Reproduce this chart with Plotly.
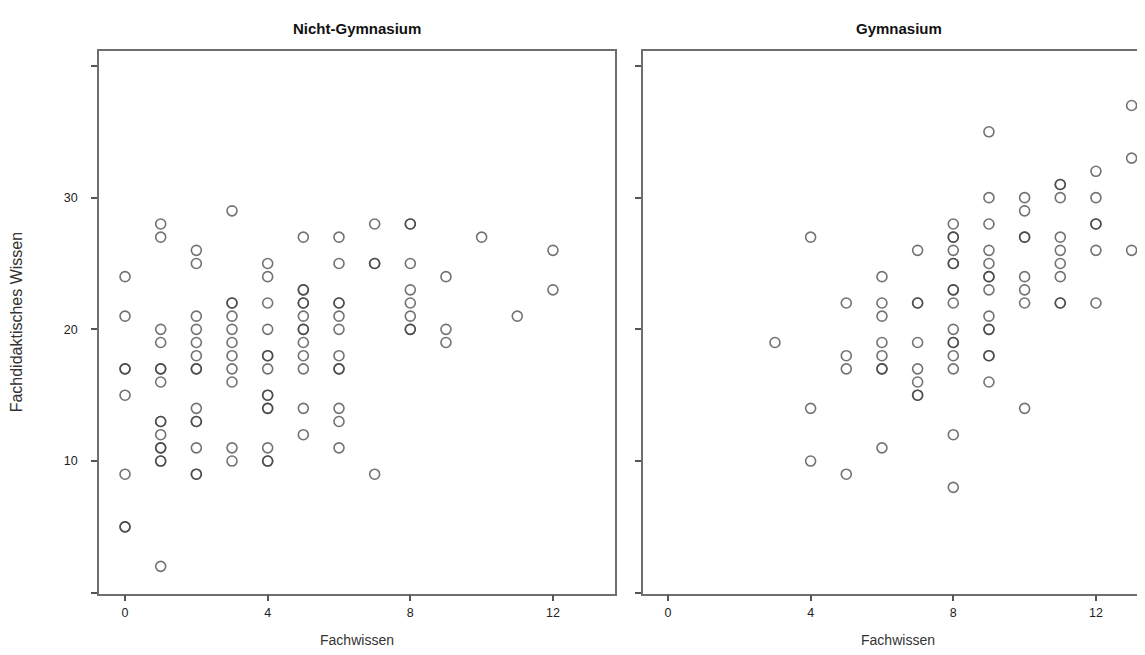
import plotly.graph_objects as go

# Nicht-Gymnasium: Fachwissen (x) / Fachdidaktisches Wissen (y)
ng_fachwissen = [0, 0, 0, 0, 0, 0, 0, 0,
                 1, 1, 1, 1, 1, 1, 1, 1, 1, 1, 1, 1, 1, 1, 1,
                 2, 2, 2, 2, 2, 2, 2, 2, 2, 2, 2, 2, 2, 2,
                 3, 3, 3, 3, 3, 3, 3, 3, 3, 3, 3,
                 4, 4, 4, 4, 4, 4, 4, 4, 4, 4, 4, 4, 4, 4,
                 5, 5, 5, 5, 5, 5, 5, 5, 5, 5, 5, 5, 5,
                 6, 6, 6, 6, 6, 6, 6, 6, 6, 6, 6, 6,
                 7, 7, 7, 7,
                 8, 8, 8, 8, 8, 8, 8, 8,
                 9, 9, 9,
                 10, 11, 12, 12]
ng_fachdidaktik = [24, 21, 17, 17, 15, 9, 5, 5,
                   28, 27, 20, 19, 17, 17, 16, 13, 13, 12, 11, 11, 10, 10, 2,
                   26, 25, 21, 20, 19, 18, 17, 17, 14, 13, 13, 11, 9, 9,
                   29, 22, 22, 21, 20, 19, 18, 17, 16, 11, 10,
                   25, 24, 22, 20, 18, 18, 17, 15, 15, 14, 14, 11, 10, 10,
                   27, 23, 23, 22, 22, 21, 20, 20, 19, 18, 17, 14, 12,
                   27, 25, 22, 22, 21, 20, 18, 17, 17, 14, 13, 11,
                   28, 25, 25, 9,
                   28, 28, 25, 23, 22, 21, 20, 20,
                   24, 20, 19,
                   27, 21, 26, 23]

# Gymnasium
gy_fachwissen = [3,
                 4, 4, 4,
                 5, 5, 5, 5,
                 6, 6, 6, 6, 6, 6, 6, 6,
                 7, 7, 7, 7, 7, 7, 7, 7,
                 8, 8, 8, 8, 8, 8, 8, 8, 8, 8, 8, 8, 8, 8, 8, 8,
                 9, 9, 9, 9, 9, 9, 9, 9, 9, 9, 9, 9, 9, 9,
                 10, 10, 10, 10, 10, 10, 10, 10,
                 11, 11, 11, 11, 11, 11, 11, 11, 11,
                 12, 12, 12, 12, 12, 12,
                 13, 13, 13]
gy_fachdidaktik = [19,
                   27, 14, 10,
                   22, 18, 17, 9,
                   24, 22, 21, 19, 18, 17, 17, 11,
                   26, 22, 22, 19, 17, 16, 15, 15,
                   28, 27, 27, 26, 25, 25, 23, 23, 22, 20, 19, 19, 18, 17, 12, 8,
                   35, 30, 28, 26, 25, 24, 24, 23, 21, 20, 20, 18, 18, 16,
                   30, 29, 27, 27, 24, 23, 22, 14,
                   31, 31, 30, 27, 26, 25, 24, 22, 22,
                   32, 30, 28, 28, 26, 22,
                   37, 33, 26]

panel_titles = ["Nicht-Gymnasium", "Gymnasium"]
x_title = "Fachwissen"
y_title = "Fachdidaktisches Wissen"
x_tickvals = [0, 4, 8, 12]
y_tickvals = [0, 10, 20, 30, 40]
y_ticktext = ["", "10", "20", "30", ""]

W, H = 1145, 655
OFF = 8  # page body margin
FONT = "Liberation Sans, Arial, sans-serif"
marker = dict(symbol="circle-open", size=10,
              line=dict(width=1.6, color="rgba(60,60,60,0.72)"),
              color="rgba(60,60,60,0.72)")

fig = go.Figure()
fig.add_trace(go.Scatter(x=ng_fachwissen, y=ng_fachdidaktik, mode="markers",
                         marker=marker, xaxis="x", yaxis="y", showlegend=False))
fig.add_trace(go.Scatter(x=gy_fachwissen, y=gy_fachdidaktik, mode="markers",
                         marker=marker, xaxis="x2", yaxis="y2", showlegend=False))

def px_x(p):
    return min(1.0, (p - OFF) / W)

def px_y(p):
    return 1 - (p - OFF) / H

ydom = [px_y(593.5), px_y(50.7)]
axis_common = dict(showgrid=False, zeroline=False, showline=True,
                   linecolor="#6e6e6e", linewidth=1.5,
                   ticks="outside", ticklen=6, tickwidth=1.5, tickcolor="#555",
                   tickfont=dict(family=FONT, size=12.5, color="#222"))

fig.update_layout(
    width=W, height=H, margin=dict(l=0, r=0, t=0, b=0),
    paper_bgcolor="white", plot_bgcolor="white",
    font=dict(family=FONT),
    xaxis=dict(axis_common, domain=[px_x(99), px_x(615)], range=[-0.73, 13.74],
               tickvals=x_tickvals, mirror=True, anchor="y",
               ticklabelstandoff=1,
               title=dict(text=x_title, standoff=16,
                          font=dict(family=FONT, size=14, color="#333"))),
    yaxis=dict(axis_common, domain=ydom, range=[-0.06, 41.16],
               tickvals=y_tickvals, ticktext=y_ticktext, mirror=True,
               anchor="x", ticklabelstandoff=11,
               title=dict(text=y_title, standoff=37,
                          font=dict(family=FONT, size=16, color="#333"))),
    xaxis2=dict(axis_common, domain=[px_x(643), 1.0], range=[-0.70, 13.6],
                tickvals=x_tickvals, mirror=True, anchor="y2",
                ticklabelstandoff=1,
                title=dict(text=x_title, standoff=16,
                           font=dict(family=FONT, size=14, color="#333"))),
    yaxis2=dict(axis_common, domain=ydom, range=[-0.06, 41.16],
                tickvals=y_tickvals, showticklabels=False, mirror=False,
                anchor="x2"),
)

fig.add_annotation(text="<b>" + panel_titles[0] + "</b>", x=px_x(357), y=px_y(28),
                   xref="paper", yref="paper", showarrow=False,
                   xanchor="center", yanchor="middle",
                   font=dict(family=FONT, size=15, color="#111"))
fig.add_annotation(text="<b>" + panel_titles[1] + "</b>", x=px_x(899), y=px_y(28),
                   xref="paper", yref="paper", showarrow=False,
                   xanchor="center", yanchor="middle",
                   font=dict(family=FONT, size=15, color="#111"))

fig.write_html("out.html")
